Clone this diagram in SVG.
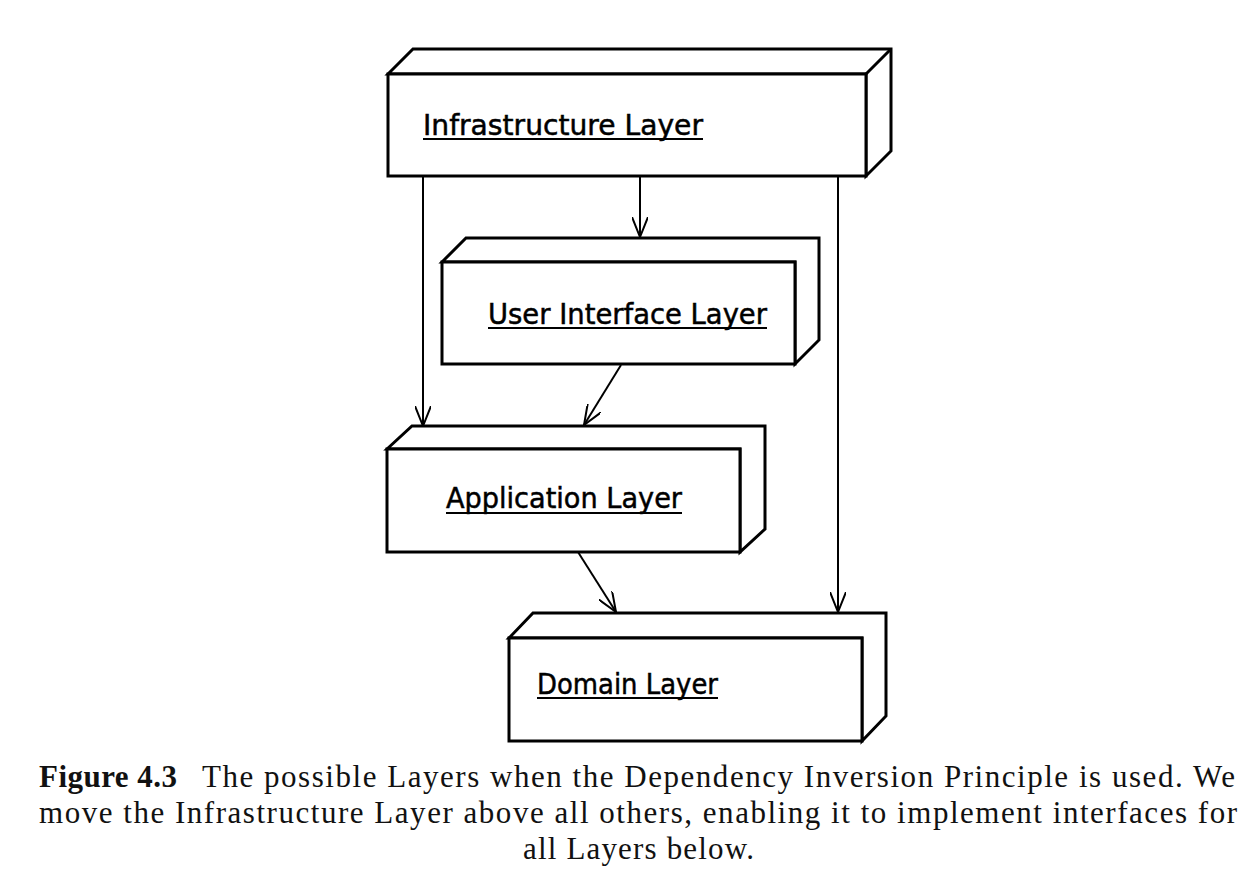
<svg xmlns="http://www.w3.org/2000/svg" width="1254" height="894" viewBox="0 0 1254 894">
<style>
.box{fill:#fff;stroke:#000;stroke-width:3;stroke-linejoin:miter}
.lbl{font-family:"DejaVu Sans","Liberation Sans",sans-serif;font-size:28px;fill:#000;stroke:#000;stroke-width:0.5}
.ul{stroke:#000;stroke-width:2}
.conn{stroke:#000;stroke-width:2;fill:none}
.cap{font-family:"Liberation Serif","DejaVu Serif",serif;font-size:31px;fill:#111}
</style>
<defs>
<marker id="open" viewBox="0 0 20 16" refX="20" refY="8" markerWidth="20" markerHeight="16" markerUnits="userSpaceOnUse" orient="auto">
<path d="M0,0 L20,8 L0,16" fill="none" stroke="#000" stroke-width="2"/>
</marker>
</defs>
<rect width="1254" height="894" fill="#fff"/>

<g id="connectors">
<line class="conn" x1="423" y1="176" x2="423" y2="426" marker-end="url(#open)"/>
<line class="conn" x1="640" y1="176" x2="640" y2="237" marker-end="url(#open)"/>
<line class="conn" x1="838" y1="176" x2="838" y2="612" marker-end="url(#open)"/>
<line class="conn" x1="621" y1="365" x2="584" y2="425" marker-end="url(#open)"/>
<line class="conn" x1="578" y1="552" x2="616" y2="612" marker-end="url(#open)"/>
</g>

<g id="infrastructure">
<path class="box" d="M388,74 L413,49 L891,49 L891,151 L866,176 L866,74 Z"/>
<rect class="box" x="388" y="74" width="478" height="102"/>
<path class="box" d="M866,74 L891,49"/>
<text class="lbl" x="423" y="135" textLength="280" lengthAdjust="spacingAndGlyphs">Infrastructure Layer</text>
<line class="ul" x1="423" y1="139" x2="703" y2="139"/>
</g>

<g id="user-interface">
<path class="box" d="M442,262 L466,238 L819,238 L819,340 L795,364 L795,262 Z"/>
<rect class="box" x="442" y="262" width="353" height="102"/>
<text class="lbl" x="488" y="324" textLength="279" lengthAdjust="spacingAndGlyphs">User Interface Layer</text>
<line class="ul" x1="488" y1="328" x2="767" y2="328"/>
</g>

<g id="application">
<path class="box" d="M387,449 L412,426 L765,426 L765,529 L740,552 L740,449 Z"/>
<rect class="box" x="387" y="449" width="353" height="103"/>
<text class="lbl" x="446" y="508" textLength="236" lengthAdjust="spacingAndGlyphs">Application Layer</text>
<line class="ul" x1="446" y1="513" x2="682" y2="513"/>
</g>

<g id="domain">
<path class="box" d="M509,638 L533,613 L886,613 L886,716 L862,741 L862,638 Z"/>
<rect class="box" x="509" y="638" width="353" height="103"/>
<text class="lbl" x="537" y="694" textLength="181" lengthAdjust="spacingAndGlyphs">Domain Layer</text>
<line class="ul" x1="537" y1="698" x2="718" y2="698"/>
</g>

<g id="caption">
<text class="cap" x="39" y="787" font-weight="bold" textLength="138">Figure 4.3</text>
<text class="cap" x="202" y="787" textLength="1033">The possible Layers when the Dependency Inversion Principle is used. We</text>
<text class="cap" x="39" y="823" textLength="1198">move the Infrastructure Layer above all others, enabling it to implement interfaces for</text>
<text class="cap" x="523" y="859" textLength="231">all Layers below.</text>
</g>
</svg>
